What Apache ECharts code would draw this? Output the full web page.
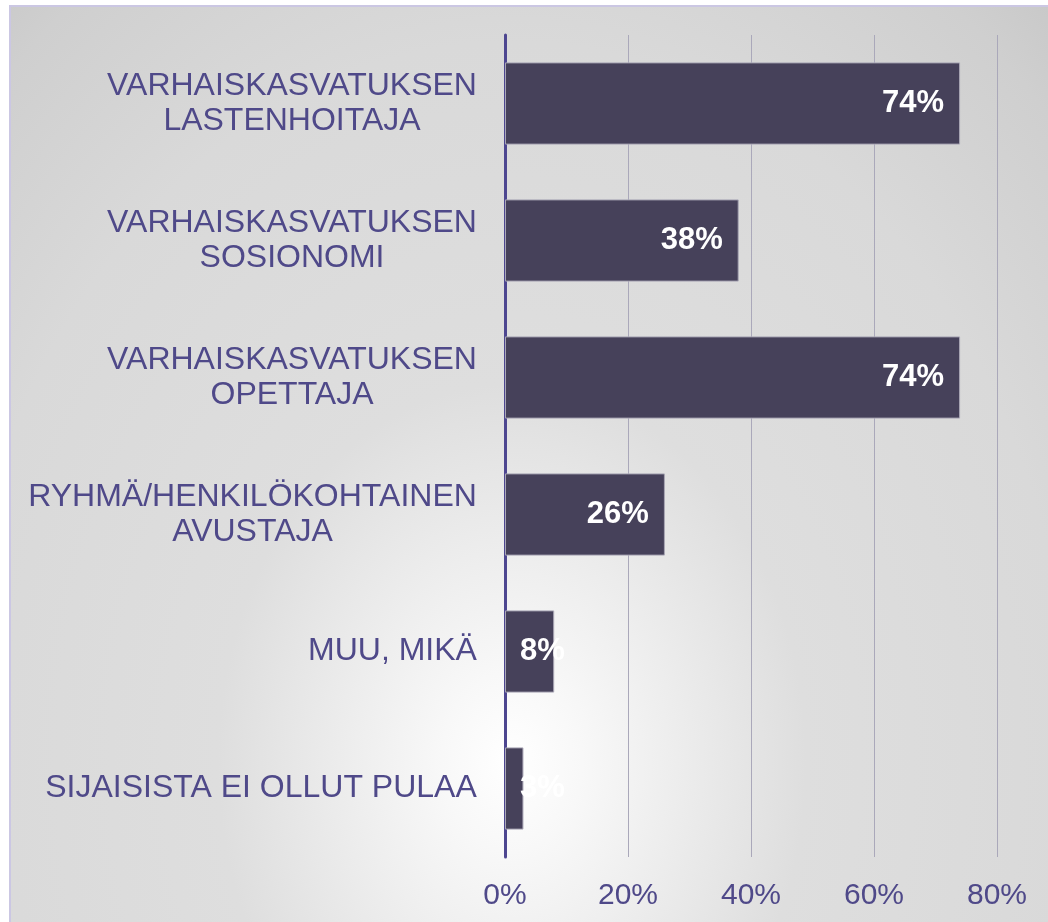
<!DOCTYPE html>
<html>
<head>
<meta charset="utf-8">
<script src="https://cdn.jsdelivr.net/npm/echarts@6/dist/echarts.min.js"></script>
<style>
  html, body { margin: 0; padding: 0; background: #ffffff; }
  #wrap {
    position: absolute; left: 9px; top: 5px; width: 1039px; height: 917px;
    border-left: 2px solid #cbc7e3; border-top: 2px solid #cbc7e3;
    box-sizing: border-box;
    background: radial-gradient(ellipse 700px 900px at 501px 755px,
      #ffffff 0%, #f8f8f8 10%, #dedede 42%, #d9d9d9 80%, #cfcfcf 105%, #c8c8c8 115%);
  }
  #chart { width: 100%; height: 100%; }
</style>
</head>
<body>
<div id="wrap"><div id="chart"></div></div>
<script>
// kategoriat ylhäältä alas
var categories = [
  "VARHAISKASVATUKSEN\nLASTENHOITAJA",
  "VARHAISKASVATUKSEN\nSOSIONOMI",
  "VARHAISKASVATUKSEN\nOPETTAJA",
  "RYHMÄ/HENKILÖKOHTAINEN\nAVUSTAJA",
  "MUU, MIKÄ",
  "SIJAISISTA EI OLLUT PULAA"
];
var values = [74, 38, 74, 26, 8, 3];
var xTicks = [0, 20, 40, 60, 80];

var fontFam = "'Liberation Sans', Arial, sans-serif";
var labelColor = "#4f4989";

// mitataan rivien leveys, jotta rivit saadaan keskitettyä
var ctx = document.createElement("canvas").getContext("2d");
ctx.font = "32px " + fontFam;
var rich = {};
categories.forEach(function (c, i) {
  var w = Math.max.apply(null, c.split("\n").map(function (s) {
    return ctx.measureText(s).width;
  }));
  rich["c" + i] = {
    width: Math.ceil(w),
    align: "center",
    fontSize: 32,
    lineHeight: 35,
    color: labelColor,
    fontFamily: fontFam
  };
});

var chart = echarts.init(document.getElementById("chart"));
chart.setOption({
  backgroundColor: "transparent",
  animation: false,
  grid: { left: 494, right: 51, top: 28, bottom: 65 },
  xAxis: {
    type: "value",
    min: 0,
    max: 80,
    interval: 20,
    axisLine: { show: false },
    axisTick: { show: false },
    splitLine: { lineStyle: { color: "#aaa8ba", width: 1 } },
    axisLabel: {
      margin: 24,
      fontSize: 30,
      color: labelColor,
      fontFamily: fontFam,
      formatter: function (v) { return xTicks.indexOf(v) >= 0 ? v + "%" : ""; }
    }
  },
  yAxis: {
    type: "category",
    inverse: true,
    data: categories,
    axisTick: { show: false },
    axisLine: { lineStyle: { color: "#4d4690", width: 3 } },
    axisLabel: {
      margin: 28,
      formatter: function (val, idx) {
        return val.split("\n").map(function (s) {
          return "{c" + idx + "|" + s + "}";
        }).join("\n");
      },
      rich: rich
    }
  },
  series: [{
    type: "bar",
    barWidth: "60%",
    data: values.map(function (v) {
      return {
        value: v,
        label: v < 10 ? { position: "insideLeft", distance: 15 } : {}
      };
    }),
    itemStyle: {
      color: "#46415a",
      borderColor: "#a9a7b6",
      borderWidth: 1
    },
    label: {
      show: true,
      position: "insideRight",
      distance: 16,
      color: "#ffffff",
      fontWeight: "bold",
      fontSize: 31,
      fontFamily: fontFam,
      formatter: "{c}%"
    }
  }]
});
</script>
</body>
</html>
